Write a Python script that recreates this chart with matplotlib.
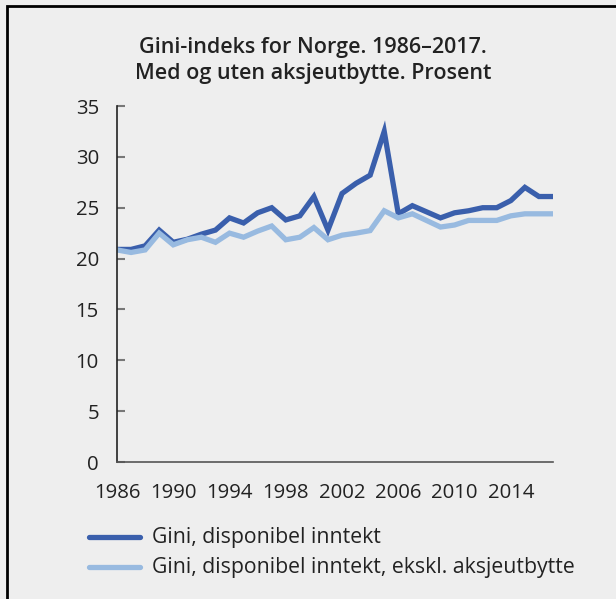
import matplotlib.pyplot as plt
from matplotlib.patches import Rectangle

years = list(range(1986, 2018))

gini = [20.9, 20.9, 21.25, 22.8, 21.6, 21.9, 22.4, 22.8, 24.0, 23.5,
        24.5, 25.0, 23.8, 24.2, 26.1, 22.8, 26.4, 27.4, 28.2, 32.5,
        24.4, 25.2, 24.6, 24.0, 24.5, 24.7, 25.0, 25.0, 25.7, 27.0,
        26.1, 26.1]

gini_ex = [20.85, 20.6, 20.85, 22.5, 21.35, 21.85, 22.1, 21.6, 22.5, 22.1,
           22.7, 23.2, 21.85, 22.1, 23.05, 21.85, 22.3, 22.5, 22.75, 24.7,
           24.0, 24.4, 23.75, 23.1, 23.3, 23.75, 23.75, 23.75, 24.2, 24.4,
           24.4, 24.4]

labels = ["Gini, disponibel inntekt",
          "Gini, disponibel inntekt, ekskl. aksjeutbytte"]

title_lines = ["Gini-indeks for Norge. 1986–2017.",
               "Med og uten aksjeutbytte. Prosent"]

plt.rcParams["font.family"] = ["Open Sans", "DejaVu Sans"]

bg = "#eeeeee"
dark = "#3a5fac"
light = "#98bae0"
txt = "#222222"

fig = plt.figure(figsize=(6.16, 5.99), dpi=100, facecolor=bg)
ax = fig.add_axes([117 / 616, 1 - 462 / 599, (553 - 117) / 616, (462 - 106) / 599])
ax.set_facecolor(bg)

ax.plot(years, gini, color=dark, lw=3.8, solid_capstyle="round", solid_joinstyle="miter")
ax.plot(years, gini_ex, color=light, lw=3.8, solid_capstyle="round", solid_joinstyle="miter")

ax.set_xlim(1986, 2017)
ax.set_ylim(0, 35)
ax.set_yticks(range(0, 36, 5))
ax.set_xticks(range(1986, 2017, 4))

ax.spines["top"].set_visible(False)
ax.spines["right"].set_visible(False)
ax.spines["left"].set_color("#222222")
ax.spines["bottom"].set_color("#555555")
ax.spines["left"].set_linewidth(1.2)
ax.spines["bottom"].set_linewidth(1.2)

ax.tick_params(axis="y", direction="in", length=6, width=1.5, color="#777777",
               labelsize=14.7, pad=13, labelcolor=txt)
ax.tick_params(axis="x", length=0, labelsize=14.7, pad=15, labelcolor=txt)

for i, line in enumerate(title_lines):
    fig.text(313 / 616, 1 - (47 + 27 * i) / 599, line, ha="center", va="center",
             fontsize=15.5, weight="semibold", color=txt)

# legend drawn by hand to match position
for i, (lab, col) in enumerate(zip(labels, [dark, light])):
    yy = 1 - (537 + 30 * i) / 599
    fig.add_artist(plt.Line2D([89 / 616, 140 / 616], [yy, yy], color=col, lw=3.8,
                              solid_capstyle="round"))
    fig.text(152 / 616, yy, lab, ha="left", va="center", fontsize=15.3, color=txt)

fig.add_artist(Rectangle((7 / 616, -0.1), 1.2, 1 - 6 / 599 + 0.1, transform=fig.transFigure,
                         fill=False, edgecolor="black", lw=2))

fig.savefig("out.png", dpi=100, facecolor=bg)
